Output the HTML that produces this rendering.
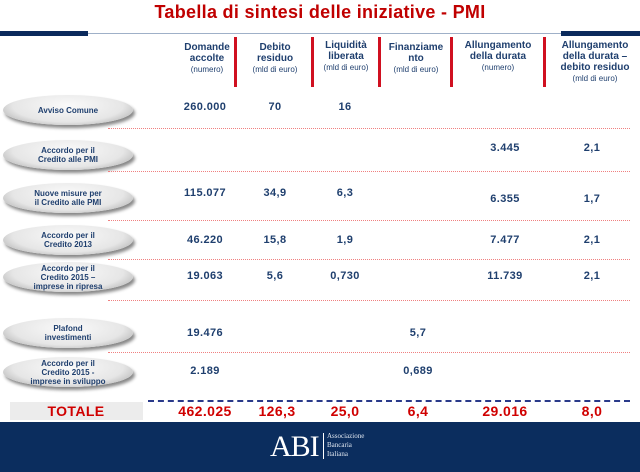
<!DOCTYPE html>
<html><head><meta charset="utf-8"><style>
body{margin:0;width:640px;height:472px;position:relative;background:#fff;font-family:"Liberation Sans",sans-serif;overflow:hidden}
.a{position:absolute}
.t{color:#c00000;font-weight:bold;font-size:18px;left:0;width:640px;text-align:center;top:2px;letter-spacing:0.3px}
.h{color:#1f3f6e;font-weight:bold;font-size:10px;line-height:11px;text-align:center;width:84px;top:42px}
.h small{font-weight:normal;font-size:8px}
.vb{width:3px;height:50px;background:#d01020;top:37px}
.pill{left:3px;width:130px;height:30px;border-radius:50%;background:radial-gradient(ellipse at 50% 35%,#fafafa 0%,#e6e6e6 60%,#9a9a9a 100%);box-shadow:2px 3px 3px #888;color:#1f3f6e;font-weight:bold;font-size:8px;line-height:9px;display:flex;align-items:center;justify-content:center;text-align:center}
.v{color:#1f3f6e;font-weight:bold;font-size:11px;width:70px;text-align:center;letter-spacing:0.4px}
.dl{left:108px;width:522px;border-top:1px dotted #f08080}
.tot{color:#d00000;font-weight:bold;font-size:14px;width:80px;text-align:center;top:403px;letter-spacing:0.4px}
</style></head><body>
<div class="a t">Tabella di sintesi delle iniziative - PMI</div>
<div class="a" style="left:0;top:31px;width:88px;height:5px;background:#0b2a5c"></div>
<div class="a" style="left:88px;top:33px;width:473px;height:1px;background:#9fb0c8"></div>
<div class="a" style="left:561px;top:31px;width:79px;height:5px;background:#0b2a5c"></div>

<div class="a h" style="left:165px">Domande<br>accolte<br><small>(numero)</small></div>
<div class="a h" style="left:233px">Debito<br>residuo<br><small>(mld di euro)</small></div>
<div class="a h" style="left:304px;top:40px">Liquidità<br>liberata<br><small>(mld di euro)</small></div>
<div class="a h" style="left:374px">Finanziame<br>nto<br><small>(mld di euro)</small></div>
<div class="a h" style="left:454px;width:88px;top:40px">Allungamento<br>della durata<br><small>(numero)</small></div>
<div class="a h" style="left:549px;width:92px;top:40px">Allungamento<br>della durata –<br>debito residuo<br><small>(mld di euro)</small></div>
<div class="a vb" style="left:234px"></div>
<div class="a vb" style="left:311px"></div>
<div class="a vb" style="left:378px"></div>
<div class="a vb" style="left:450px"></div>
<div class="a vb" style="left:543px"></div>

<div id="rows"></div>

<div class="a" style="left:148px;top:400px;width:482px;border-top:2px dashed #2a3a8a"></div>
<div class="a" style="left:10px;top:402px;width:133px;height:18px;background:#ececec"></div>
<div class="a tot" style="left:36px;width:80px">TOTALE</div>
<div class="a tot" style="left:165px">462.025</div>
<div class="a tot" style="left:237px">126,3</div>
<div class="a tot" style="left:305px">25,0</div>
<div class="a tot" style="left:378px">6,4</div>
<div class="a tot" style="left:465px">29.016</div>
<div class="a tot" style="left:552px">8,0</div>

<div class="a" style="left:0;top:422px;width:640px;height:50px;background:#0b2d5e">
<div class="a" style="left:270px;top:8px;color:#fff;font-family:'Liberation Serif',serif;font-size:30px;letter-spacing:-1px">ABI</div>
<div class="a" style="left:323px;top:11px;width:1px;height:26px;background:#fff"></div>
<div class="a" style="left:327px;top:10px;color:#dfe6f0;font-family:'Liberation Serif',serif;font-size:7px;line-height:9px">Associazione<br>Bancaria<br>Italiana</div>
</div>

<script>
const labels=["Avviso Comune","Accordo per il<br>Credito alle PMI","Nuove misure per<br>il Credito alle PMI","Accordo per il<br>Credito 2013","Accordo per il<br>Credito 2015 –<br>imprese in ripresa","Plafond<br>investimenti","Accordo per il<br>Credito 2015 -<br>imprese in sviluppo"];
const pillY=[95,140,183,225,262,318,357];
const valY=[101,142,187,234,270,327,365];
const lineY=[128,171,220,259,300,352];
const domande=["260.000","","115.077","46.220","19.063","19.476","2.189"];
const debito=["70","","34,9","15,8","5,6","",""];
const liquidita=["16","","6,3","1,9","0,730","",""];
const finanz=["","","","","","5,7","0,689"];
const allung=["","3.445","6.355","7.477","11.739","",""];
const allungDeb=["","2,1","1,7","2,1","2,1","",""];
const cols=[[domande,170],[debito,240],[liquidita,310],[finanz,383],[allung,470],[allungDeb,557]];
const root=document.getElementById('rows');
labels.forEach((l,i)=>{
 const p=document.createElement('div');p.className='a pill';p.style.top=pillY[i]+'px';p.innerHTML=l;
 
 
 root.appendChild(p);
 cols.forEach(([arr,x],j)=>{
  if(!arr[i])return;
  const v=document.createElement('div');v.className='a v';v.style.left=x+'px';
  v.style.top=(valY[i]+((j===4||j===5)&&i===2?6:0))+'px';v.textContent=arr[i];
  
  
  root.appendChild(v);
 });
});
lineY.forEach(y=>{
 const d=document.createElement('div');d.className='a dl';d.style.top=y+'px';
 
 
 root.appendChild(d);
});
</script>
</body></html>
